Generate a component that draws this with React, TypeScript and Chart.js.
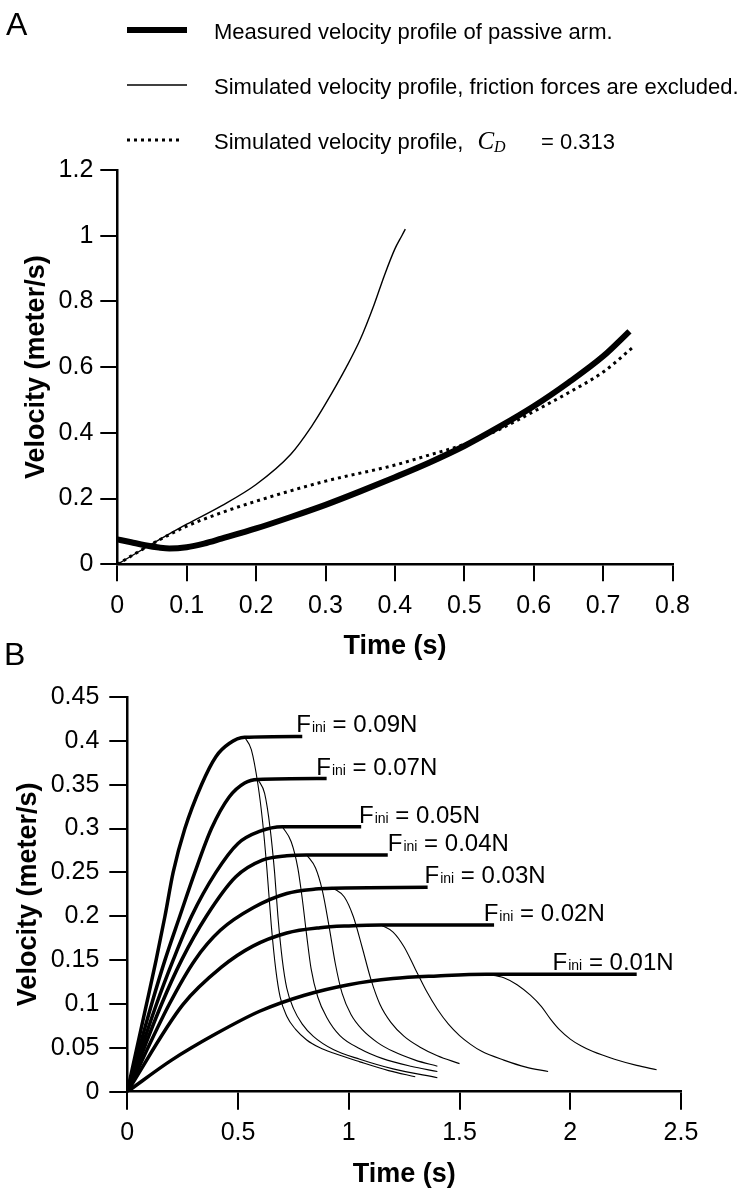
import React, { useEffect, useRef } from "react";
import { Chart, registerables } from "chart.js";

Chart.register(...registerables);

const FONT = '"Liberation Sans", Arial, Helvetica, sans-serif';
const SERIF = '"Liberation Serif", "Times New Roman", serif';

// ---------------- Panel A ----------------
const aXTicks = [0, 0.1, 0.2, 0.3, 0.4, 0.5, 0.6, 0.7, 0.8];
const aXTickLabels = ["0", "0.1", "0.2", "0.3", "0.4", "0.5", "0.6", "0.7", "0.8"];
const aYTicks = [0, 0.2, 0.4, 0.6, 0.8, 1, 1.2];
const aYTickLabels = ["0", "0.2", "0.4", "0.6", "0.8", "1", "1.2"];

const measuredTime = [0, 0.02, 0.04, 0.06, 0.075, 0.1, 0.125, 0.15, 0.2, 0.25, 0.3, 0.35, 0.4, 0.45, 0.5, 0.55, 0.6, 0.65, 0.7, 0.738];
const measuredVel = [0.076, 0.067, 0.058, 0.051, 0.048, 0.052, 0.063, 0.078, 0.109, 0.144, 0.181, 0.222, 0.265, 0.31, 0.36, 0.418, 0.481, 0.553, 0.633, 0.709];

const noFrictionTime = [0, 0.05, 0.1, 0.15, 0.2, 0.25, 0.28, 0.3, 0.33, 0.35, 0.37, 0.385, 0.4, 0.41, 0.415];
const noFrictionVel = [0, 0.062, 0.122, 0.178, 0.243, 0.335, 0.42, 0.488, 0.6, 0.684, 0.79, 0.88, 0.96, 1.0, 1.02];

const dragTime = [0, 0.05, 0.1, 0.15, 0.2, 0.3, 0.4, 0.45, 0.5, 0.55, 0.6, 0.65, 0.7, 0.745];
const dragVel = [0, 0.062, 0.116, 0.157, 0.192, 0.253, 0.302, 0.333, 0.365, 0.41, 0.465, 0.522, 0.585, 0.664];

const legendTextsA = [
  "Measured velocity profile of passive arm.",
  "Simulated velocity profile, friction forces are excluded.",
  "Simulated velocity profile,",
];
const dragSymbol = "C";
const dragSubscript = "D";
const dragValueText = "= 0.313";

// ---------------- Panel B ----------------
const bXTicks = [0, 0.5, 1, 1.5, 2, 2.5];
const bXTickLabels = ["0", "0.5", "1", "1.5", "2", "2.5"];
const bYTicks = [0, 0.05, 0.1, 0.15, 0.2, 0.25, 0.3, 0.35, 0.4, 0.45];
const bYTickLabels = ["0", "0.05", "0.1", "0.15", "0.2", "0.25", "0.3", "0.35", "0.4", "0.45"];

const forceLabels = ["0.09N", "0.07N", "0.05N", "0.04N", "0.03N", "0.02N", "0.01N"];
// time at which each force label starts (annotation anchor, data units)
const forceLabelTimes = [0.763, 0.853, 1.046, 1.176, 1.342, 1.609, 1.92];

// accelerating phase + plateau (thick), [time, velocity]
const rise009 = [[0, 0], [0.045, 0.052], [0.087, 0.1], [0.13, 0.15], [0.17, 0.2], [0.207, 0.25], [0.26, 0.3], [0.335, 0.35], [0.4, 0.382], [0.46, 0.397], [0.53, 0.404], [0.79, 0.405]];
const rise007 = [[0, 0], [0.11, 0.1], [0.17, 0.15], [0.237, 0.2], [0.305, 0.25], [0.38, 0.3], [0.46, 0.336], [0.53, 0.352], [0.59, 0.356], [0.9, 0.357]];
const rise005 = [[0, 0], [0.132, 0.1], [0.207, 0.15], [0.29, 0.2], [0.4, 0.25], [0.5, 0.283], [0.6, 0.297], [0.7, 0.302], [1.056, 0.302]];
const rise004 = [[0, 0], [0.155, 0.1], [0.245, 0.15], [0.357, 0.2], [0.49, 0.245], [0.61, 0.264], [0.72, 0.269], [0.81, 0.27], [1.176, 0.27]];
const rise003 = [[0, 0], [0.19, 0.1], [0.305, 0.15], [0.42, 0.184], [0.57, 0.21], [0.72, 0.226], [0.85, 0.231], [0.93, 0.232], [1.356, 0.233]];
const rise002 = [[0, 0], [0.25, 0.099], [0.425, 0.142], [0.567, 0.166], [0.72, 0.181], [0.87, 0.187], [1.0, 0.189], [1.146, 0.19], [1.656, 0.19]];
const rise001 = [[0, 0], [0.2, 0.036], [0.4, 0.066], [0.6, 0.092], [0.8, 0.11], [1.0, 0.122], [1.2, 0.129], [1.4, 0.132], [1.62, 0.134], [2.3, 0.134]];

// decelerating phase (thin), [time, velocity]
const decay009 = [[0.53, 0.404], [0.56, 0.39], [0.59, 0.35], [0.61, 0.31], [0.63, 0.255], [0.65, 0.19], [0.67, 0.14], [0.69, 0.108], [0.72, 0.086], [0.76, 0.071], [0.81, 0.059], [0.87, 0.05], [0.93, 0.044], [1.05, 0.034], [1.18, 0.024], [1.3, 0.017]];
const decay007 = [[0.59, 0.356], [0.62, 0.34], [0.645, 0.3], [0.665, 0.25], [0.68, 0.2], [0.7, 0.15], [0.72, 0.118], [0.75, 0.095], [0.79, 0.077], [0.84, 0.063], [0.93, 0.048], [1.05, 0.037], [1.2, 0.026], [1.4, 0.016]];
const decay005 = [[0.7, 0.302], [0.74, 0.285], [0.77, 0.255], [0.79, 0.22], [0.81, 0.178], [0.83, 0.14], [0.86, 0.108], [0.9, 0.085], [0.96, 0.064], [1.05, 0.049], [1.15, 0.038], [1.28, 0.029], [1.4, 0.023]];
const decay004 = [[0.81, 0.27], [0.85, 0.255], [0.88, 0.23], [0.91, 0.19], [0.94, 0.145], [0.97, 0.112], [1.01, 0.088], [1.06, 0.071], [1.13, 0.056], [1.2, 0.046], [1.3, 0.036], [1.4, 0.029]];
const decay003 = [[0.93, 0.232], [0.98, 0.222], [1.02, 0.2], [1.06, 0.165], [1.1, 0.128], [1.14, 0.1], [1.19, 0.079], [1.25, 0.063], [1.32, 0.051], [1.4, 0.041], [1.5, 0.032]];
const decay002 = [[1.146, 0.19], [1.2, 0.182], [1.25, 0.165], [1.3, 0.14], [1.35, 0.115], [1.4, 0.094], [1.45, 0.077], [1.5, 0.064], [1.55, 0.054], [1.6, 0.046], [1.7, 0.036], [1.8, 0.028], [1.9, 0.023]];
const decay001 = [[1.62, 0.134], [1.7, 0.13], [1.76, 0.122], [1.82, 0.11], [1.87, 0.097], [1.91, 0.083], [1.95, 0.071], [2.0, 0.06], [2.05, 0.052], [2.1, 0.046], [2.2, 0.037], [2.3, 0.03], [2.39, 0.025]];

const riseCurves = [rise009, rise007, rise005, rise004, rise003, rise002, rise001];
const decayCurves = [decay009, decay007, decay005, decay004, decay003, decay002, decay001];

// ---------------- helpers ----------------
const toPoints = (xs: number[], ys: number[]) => xs.map((x, i) => ({ x, y: ys[i] }));
const pairPoints = (arr: number[][]) => arr.map((p) => ({ x: p[0], y: p[1] }));

function makeAxis(opts: {
  horizontal: boolean;
  min: number;
  max: number;
  ticks: number[];
  labels: string[];
  tickLen: number;
  pad: number;
  title: string;
  titlePad: any;
  fit: number;
}) {
  return {
    type: "linear",
    min: opts.min,
    max: opts.max,
    position: opts.horizontal ? "bottom" : "left",
    afterBuildTicks: (scale: any) => {
      scale.ticks = opts.ticks.map((v) => ({ value: v }));
    },
    afterFit: (scale: any) => {
      if (opts.horizontal) scale.height = opts.fit;
      else scale.width = opts.fit;
    },
    ticks: {
      autoSkip: false,
      maxRotation: 0,
      minRotation: 0,
      padding: opts.pad,
      color: "#000",
      font: { family: FONT, size: 25 },
      callback: (_v: any, i: number) => opts.labels[i],
    },
    grid: {
      display: true,
      drawOnChartArea: false,
      drawTicks: true,
      tickLength: opts.tickLen,
      lineWidth: 2,
      color: "#000",
    },
    border: { display: true, width: 2.5, color: "#000" },
    title: {
      display: true,
      text: opts.title,
      color: "#000",
      font: { family: FONT, size: 27, weight: "bold" },
      padding: opts.titlePad,
    },
  };
}

const panelAPlugin = {
  id: "panelA",
  afterDraw(chart: any) {
    const ctx = chart.ctx;
    ctx.save();
    ctx.fillStyle = "#000";
    ctx.strokeStyle = "#000";
    ctx.textBaseline = "alphabetic";
    ctx.font = `32px ${FONT}`;
    ctx.fillText("A", 6, 35);
    const rowY = [30, 85, 140];
    chart.data.datasets.forEach((ds: any, i: number) => {
      const y = rowY[i];
      ctx.beginPath();
      ctx.lineWidth = ds.borderWidth;
      ctx.setLineDash(ds.borderDash || []);
      ctx.moveTo(127, y);
      ctx.lineTo(i === 2 ? 183 : 187, y);
      ctx.stroke();
      ctx.setLineDash([]);
      ctx.font = `22px ${FONT}`;
      ctx.fillText(legendTextsA[i], 214, y + 9);
    });
    const y3 = rowY[2] + 9;
    ctx.font = `22px ${FONT}`;
    const cx = 214 + ctx.measureText(legendTextsA[2]).width + 14;
    ctx.font = `italic 25px ${SERIF}`;
    ctx.fillText(dragSymbol, cx, y3);
    const cw = ctx.measureText(dragSymbol).width;
    ctx.font = `italic 16px ${SERIF}`;
    ctx.fillText(dragSubscript, cx + cw, y3 + 3);
    ctx.font = `22px ${FONT}`;
    ctx.fillText(dragValueText, 541, y3);
    ctx.restore();
  },
};

const panelBPlugin = {
  id: "panelB",
  afterDraw(chart: any) {
    const ctx = chart.ctx;
    const xs = chart.scales.x;
    const ys = chart.scales.y;
    ctx.save();
    ctx.fillStyle = "#000";
    ctx.textBaseline = "alphabetic";
    ctx.font = `32px ${FONT}`;
    ctx.fillText("B", 4, 35);
    riseCurves.forEach((curve, i) => {
      const end = curve[curve.length - 1];
      let px = xs.getPixelForValue(forceLabelTimes[i]);
      const py = ys.getPixelForValue(end[1]) - 4;
      ctx.font = `24px ${FONT}`;
      ctx.fillText("F", px, py);
      px += ctx.measureText("F").width + 1;
      ctx.font = `14px ${FONT}`;
      ctx.fillText("ini", px, py);
      px += ctx.measureText("ini").width;
      ctx.font = `24px ${FONT}`;
      ctx.fillText(" = " + forceLabels[i], px, py);
    });
    ctx.restore();
  },
};

function configA(): any {
  return {
    type: "line",
    data: {
      datasets: [
        { data: toPoints(measuredTime, measuredVel), borderColor: "#000", borderWidth: 6, cubicInterpolationMode: "monotone", pointRadius: 0 },
        { data: toPoints(noFrictionTime, noFrictionVel), borderColor: "#000", borderWidth: 1.4, cubicInterpolationMode: "monotone", pointRadius: 0 },
        { data: toPoints(dragTime, dragVel), borderColor: "#000", borderWidth: 3, borderDash: [3, 4], cubicInterpolationMode: "monotone", pointRadius: 0 },
      ],
    },
    options: {
      animation: false,
      responsive: false,
      maintainAspectRatio: false,
      layout: { padding: { top: 170, right: 71.5, left: 0, bottom: 0 } },
      plugins: { legend: { display: false }, tooltip: { enabled: false } },
      scales: {
        x: makeAxis({ horizontal: true, min: 0, max: 0.8, ticks: aXTicks, labels: aXTickLabels, tickLen: 17, pad: 10, title: "Time (s)", titlePad: { top: 0, bottom: 17 }, fit: 115.7 }),
        y: makeAxis({ horizontal: false, min: 0, max: 1.2, ticks: aYTicks, labels: aYTickLabels, tickLen: 17, pad: 7, title: "Velocity (meter/s)", titlePad: { top: 20.5, bottom: 0 }, fit: 117.3 }),
      },
    },
    plugins: [panelAPlugin],
  };
}

function configB(): any {
  const datasets: any[] = [];
  riseCurves.forEach((c) =>
    datasets.push({ data: pairPoints(c), borderColor: "#000", borderWidth: 3.5, cubicInterpolationMode: "monotone", pointRadius: 0 })
  );
  decayCurves.forEach((c) =>
    datasets.push({ data: pairPoints(c), borderColor: "#000", borderWidth: 1.1, cubicInterpolationMode: "monotone", pointRadius: 0 })
  );
  return {
    type: "line",
    data: { datasets },
    options: {
      animation: false,
      responsive: false,
      maintainAspectRatio: false,
      layout: { padding: { top: 67, right: 63, left: 0, bottom: 0 } },
      plugins: { legend: { display: false }, tooltip: { enabled: false } },
      scales: {
        x: makeAxis({ horizontal: true, min: 0, max: 2.5, ticks: bXTicks, labels: bXTickLabels, tickLen: 18, pad: 8.6, title: "Time (s)", titlePad: { top: 0, bottom: 7.8 }, fit: 107.3 }),
        y: makeAxis({ horizontal: false, min: 0, max: 0.45, ticks: bYTicks, labels: bYTickLabels, tickLen: 18, pad: 10, title: "Velocity (meter/s)", titlePad: { top: 12.8, bottom: 0 }, fit: 127.3 }),
      },
    },
    plugins: [panelBPlugin],
  };
}

export default function App() {
  const refA = useRef<HTMLCanvasElement>(null);
  const refB = useRef<HTMLCanvasElement>(null);
  useEffect(() => {
    const a = new Chart(refA.current as HTMLCanvasElement, configA());
    const b = new Chart(refB.current as HTMLCanvasElement, configB());
    return () => {
      a.destroy();
      b.destroy();
    };
  }, []);
  return (
    <div style={{ position: "absolute", left: 0, top: 0, width: 744, height: 1199, background: "#fff" }}>
      <canvas ref={refA} width={744} height={680} style={{ position: "absolute", left: 0, top: 0, width: 744, height: 680 }} />
      <canvas ref={refB} width={744} height={569} style={{ position: "absolute", left: 0, top: 630, width: 744, height: 569 }} />
    </div>
  );
}
